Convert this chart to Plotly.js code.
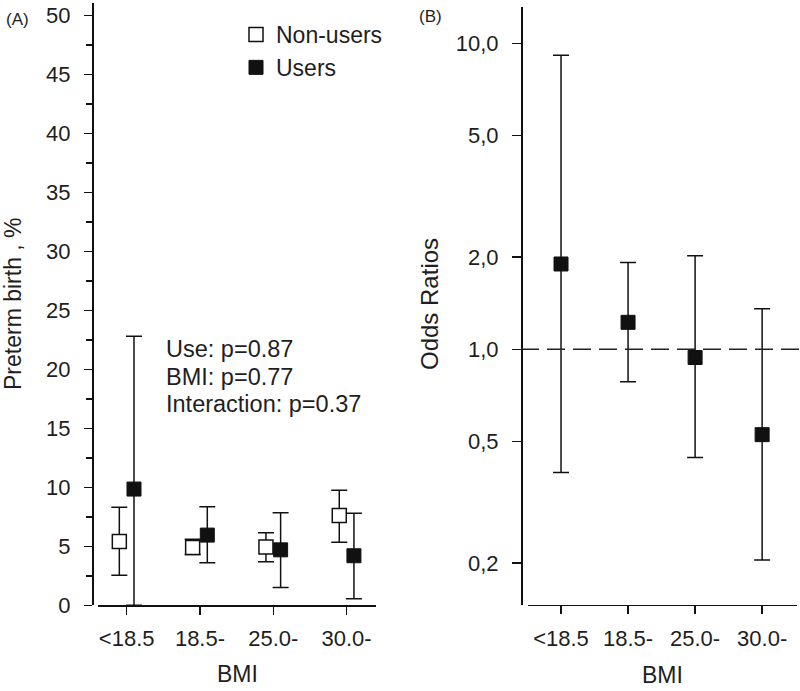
<!DOCTYPE html>
<html>
<head>
<meta charset="utf-8">
<script src="https://cdn.plot.ly/plotly-3.0.1.min.js"></script>
<style>html,body{margin:0;padding:0;background:#fff;}#chart{width:800px;height:691px;}</style>
</head>
<body>
<div id="chart"></div>
<script>
// ---- data ----
var bmiCategories = ['<18.5', '18.5-', '25.0-', '30.0-'];

// Panel A: preterm birth, %
var nonUsersValue = [5.4, 4.9, 4.95, 7.6];
var nonUsersUpper = [8.3, 5.6, 6.15, 9.75];
var nonUsersLower = [2.55, 4.3, 3.7, 5.35];

var usersValue = [9.85, 5.95, 4.7, 4.2];
var usersUpper = [22.8, 8.35, 7.85, 7.8];
var usersLower = [0.0, 3.6, 1.5, 0.55];

// Panel B: odds ratios
var orValue = [1.90, 1.225, 0.94, 0.526];
var orUpper = [9.14, 1.92, 2.02, 1.357];
var orLower = [0.396, 0.784, 0.443, 0.205];

var oddsTickVals = [0.2, 0.5, 1, 2, 5, 10];
var oddsTickText = ['0,2', '0,5', '1,0', '2,0', '5,0', '10,0'];
var pctTickVals = [0, 5, 10, 15, 20, 25, 30, 35, 40, 45, 50];

var statsLines = ['Use: p=0.87', 'BMI: p=0.77', 'Interaction: p=0.37'];

// ---- helpers ----
function diff(a, b) { return a.map(function (v, i) { return v - b[i]; }); }

var FONT = '"Liberation Sans", Arial, Helvetica, sans-serif';
var TXT = '#1e1e1e';
var W = 800, H = 691;
function px(x) { return x / W; }
function py(y) { return (H - y) / H; }

var errStyle = { type: 'data', color: '#111', thickness: 1.5, width: 8 };

var traces = [
  {
    type: 'scatter', mode: 'markers', name: 'Non-users',
    x: bmiCategories, y: nonUsersValue, xaxis: 'x', yaxis: 'y',
    offsetgroup: 'nu',
    marker: { symbol: 'square', size: 14, color: '#ffffff', line: { color: '#111', width: 1.5 } },
    error_y: Object.assign({ array: diff(nonUsersUpper, nonUsersValue), arrayminus: diff(nonUsersValue, nonUsersLower) }, errStyle),
    cliponaxis: false
  },
  {
    type: 'scatter', mode: 'markers', name: 'Users',
    x: bmiCategories, y: usersValue, xaxis: 'x', yaxis: 'y',
    offsetgroup: 'u',
    marker: { symbol: 'square', size: 14, color: '#111', line: { color: '#111', width: 1 } },
    error_y: Object.assign({ array: diff(usersUpper, usersValue), arrayminus: diff(usersValue, usersLower) }, errStyle),
    cliponaxis: false
  },
  {
    type: 'scatter', mode: 'markers', name: 'Odds ratio', showlegend: false,
    x: bmiCategories, y: orValue, xaxis: 'x2', yaxis: 'y2',
    marker: { symbol: 'square', size: 14, color: '#111', line: { color: '#111', width: 1 } },
    error_y: Object.assign({ array: diff(orUpper, orValue), arrayminus: diff(orValue, orLower) }, errStyle),
    cliponaxis: false
  }
];

var axisCommon = {
  showgrid: false, zeroline: false, showline: true, linecolor: '#111', linewidth: 1.5,
  ticks: 'outside', tickcolor: '#111', tickwidth: 1.5,
  tickfont: { family: FONT, size: 22, color: TXT }
};

var statsY = [349, 377, 404];
var statsAnnotations = statsLines.map(function (t, i) {
  return { text: t, xref: 'paper', yref: 'paper', x: px(164), y: py(statsY[i]), xanchor: 'left', yanchor: 'middle',
    showarrow: false, font: { family: FONT, size: 23.5, color: TXT } };
});

var layout = {
  width: W, height: H,
  margin: { l: 0, r: 0, t: 0, b: 0 },
  paper_bgcolor: '#ffffff', plot_bgcolor: 'rgba(0,0,0,0)',
  font: { family: FONT, color: TXT },
  scattermode: 'group',
  scattergap: 0.6,
  showlegend: true,
  legend: {
    x: px(236), y: py(13), xanchor: 'left', yanchor: 'top',
    bgcolor: 'rgba(0,0,0,0)', font: { family: FONT, size: 23, color: TXT },
    tracegroupgap: 0, itemclick: false
  },
  xaxis: Object.assign({}, axisCommon, {
    domain: [px(97.7), px(376)], anchor: 'y', type: 'category',
    range: [-0.395, 3.401], ticklen: 8, ticklabelstandoff: 5
  }),
  yaxis: Object.assign({}, axisCommon, {
    domain: [py(605.3), py(3)], anchor: 'free', position: px(92),
    range: [0, 51.04], tickvals: pctTickVals, ticklen: 8, ticklabelstandoff: 9,
    minor: { dtick: 2.5, tick0: 0, ticks: 'outside', ticklen: 6, tickcolor: '#111', tickwidth: 1.5, showgrid: false }
  }),
  xaxis2: Object.assign({}, axisCommon, {
    domain: [px(527.7), px(797)], anchor: 'y2', type: 'category',
    range: [-0.497, 3.52], ticklen: 8, ticklabelstandoff: 6
  }),
  yaxis2: Object.assign({}, axisCommon, {
    domain: [py(604.5), py(7)], anchor: 'free', position: px(521),
    type: 'log', range: [-0.834, 1.1186],
    tickvals: oddsTickVals, ticktext: oddsTickText, ticklen: 9, ticklabelstandoff: 9
  }),
  shapes: [
    { type: 'line', xref: 'paper', x0: px(521), x1: 1, yref: 'y2', y0: 1, y1: 1,
      line: { color: '#222', width: 1.5, dash: '18px,8px' } }
  ],
  annotations: [
    { text: '(A)', xref: 'paper', yref: 'paper', x: px(4), y: py(19.5), xanchor: 'left', yanchor: 'middle',
      showarrow: false, font: { family: FONT, size: 17, color: TXT } },
    { text: '(B)', xref: 'paper', yref: 'paper', x: px(417), y: py(16.5), xanchor: 'left', yanchor: 'middle',
      showarrow: false, font: { family: FONT, size: 17, color: TXT } },
    { text: 'Preterm birth , %', xref: 'paper', yref: 'paper', x: px(13), y: py(304), xanchor: 'center', yanchor: 'middle',
      textangle: -90, showarrow: false, font: { family: FONT, size: 23, color: TXT } },
    { text: 'Odds Ratios', xref: 'paper', yref: 'paper', x: px(429), y: py(304), xanchor: 'center', yanchor: 'middle',
      textangle: -90, showarrow: false, font: { family: FONT, size: 24, color: TXT } },
    { text: 'BMI', xref: 'paper', yref: 'paper', x: px(237), y: py(689), xanchor: 'center', yanchor: 'bottom',
      showarrow: false, font: { family: FONT, size: 23, color: TXT } },
    { text: 'BMI', xref: 'paper', yref: 'paper', x: px(662), y: py(690), xanchor: 'center', yanchor: 'bottom',
      showarrow: false, font: { family: FONT, size: 23, color: TXT } }
  ].concat(statsAnnotations)
};

Plotly.newPlot('chart', traces, layout, { displayModeBar: false, staticPlot: true });
</script>
</body>
</html>
